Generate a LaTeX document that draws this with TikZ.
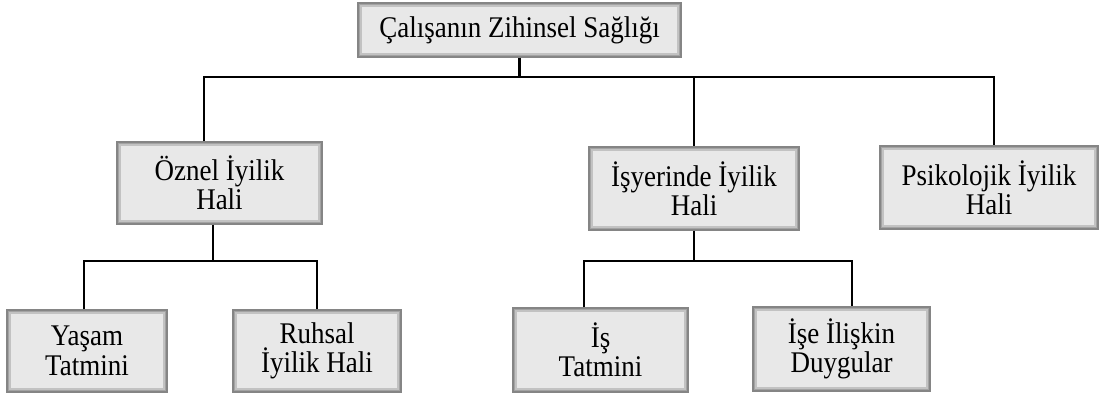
\documentclass[tikz,border=0pt]{standalone}
\usepackage{fontspec}
\setmainfont[FakeStretch=0.9]{Liberation Serif}
\usetikzlibrary{positioning}
\definecolor{boxfill}{HTML}{E8E8E8}
\definecolor{boxedge}{HTML}{858585}
\definecolor{boxrim}{HTML}{C2C2C2}
\definecolor{boxrimdark}{HTML}{A3A3A3}
\tikzset{
  kutu/.style={rectangle, draw=boxedge, line width=0.6pt, fill=boxfill,
    align=center, inner sep=0pt, font=\fontsize{15}{14.7}\selectfont,
    path picture={
      \draw[boxrim, line width=3.6pt] (path picture bounding box.south west) rectangle (path picture bounding box.north east);
      \draw[boxrimdark, line width=1.6pt] (path picture bounding box.south west) rectangle (path picture bounding box.north east);
    }},
  link/.style={line width=1.3pt}
}
\begin{document}
\begin{tikzpicture}[x=0.5pt,y=-0.5pt]
          \useasboundingbox (0,0) rectangle (1101,398);
          \node[kutu, minimum width=161.5pt, minimum height=27pt] at (519.5,30) (zihin) {Çalışanın Zihinsel Sağlığı};
          \node[kutu, minimum width=102.5pt, minimum height=41pt] at (219.5,183) (oznel) {Öznel İyilik\\Hali};
          \node[kutu, minimum width=105pt, minimum height=41.5pt] at (694,188.5) (isyeri) {İşyerinde İyilik\\Hali};
          \node[kutu, minimum width=109pt, minimum height=41.5pt] at (989,187.5) (psiko) {Psikolojik İyilik\\Hali};
          \node[kutu, minimum width=80pt, minimum height=41pt] at (87,351) (yasam) {Yaşam\\Tatmini};
          \node[kutu, minimum width=84pt, minimum height=41pt] at (317,351) (ruhsal) {Ruhsal\\İyilik Hali};
          \node[kutu, minimum width=87.5pt, minimum height=42pt] at (600.5,350) (istat) {İş\\Tatmini};
          \node[kutu, minimum width=88.5pt, minimum height=42pt] at (841.5,349) (isduy) {İşe İlişkin\\Duygular};
          \coordinate (bus1) at (516,77);
          \coordinate (bus2) at (0,261);
          % first level
          \draw[link] (zihin.south) -- (zihin.south |- bus1);
          \draw[link] ([xshift=-7.75pt]oznel.north) |- ([xshift=2.5pt]psiko.north |- bus1) -- ([xshift=2.5pt]psiko.north);
          \draw[link] (isyeri.north |- bus1) -- (isyeri.north);
          % second level
          \draw[link] ([xshift=-3.25pt]oznel.south) -- ([xshift=-3.25pt]oznel.south |- bus2);
          \draw[link] ([xshift=-1.5pt]yasam.north) |- (ruhsal.north |- bus2) -- (ruhsal.north);
          \draw[link] (isyeri.south) -- (isyeri.south |- bus2);
          \draw[link] ([xshift=-8.25pt]istat.north) |- ([xshift=5.25pt]isduy.north |- bus2) -- ([xshift=5.25pt]isduy.north);
        \end{tikzpicture}
\end{document}
